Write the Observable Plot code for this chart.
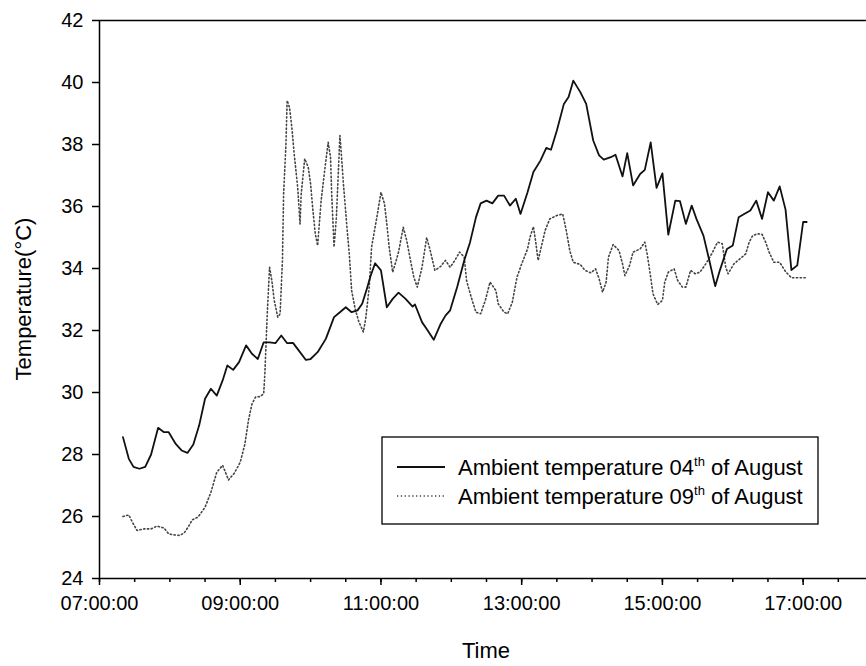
<!DOCTYPE html>
<html><head><meta charset="utf-8">
<script src="https://cdn.jsdelivr.net/npm/d3@7"></script>
<script src="https://cdn.jsdelivr.net/npm/@observablehq/plot@0.6"></script>
<style>body{margin:0;background:#fff}#chart{width:866px;height:666px}</style>
</head><body><div id="chart"></div>
<script>
// Ambient temperature, 04th of August (solid)
const solidTimes = ["07:20","07:25","07:29","07:34","07:39","07:44","07:50","07:55","07:59","08:05","08:10","08:15","08:20","08:25","08:30","08:35","08:40","08:45","08:49","08:54","08:59","09:05","09:10","09:15","09:20","09:25","09:30","09:35","09:40","09:45","09:50","09:56","10:00","10:06","10:13","10:20","10:25","10:30","10:35","10:40","10:44","10:48","10:51","10:55","11:00","11:05","11:10","11:15","11:21","11:27","11:29","11:35","11:39","11:45","11:51","11:55","11:59","12:05","12:11","12:16","12:21","12:25","12:30","12:35","12:40","12:45","12:50","12:55","12:59","13:05","13:10","13:16","13:21","13:25","13:30","13:36","13:40","13:44","13:50","13:55","14:01","14:06","14:10","14:16","14:20","14:26","14:30","14:35","14:41","14:45","14:50","14:55","15:00","15:05","15:11","15:15","15:20","15:25","15:29","15:35","15:40","15:45","15:49","15:55","16:00","16:05","16:09","16:15","16:20","16:25","16:30","16:35","16:40","16:45","16:50","16:55","17:00","17:03"];
const solidTemps = [28.56,27.86,27.6,27.54,27.6,28.0,28.86,28.72,28.72,28.34,28.13,28.05,28.32,28.94,29.8,30.12,29.9,30.39,30.87,30.73,30.98,31.52,31.25,31.08,31.62,31.62,31.59,31.84,31.59,31.6,31.35,31.05,31.08,31.3,31.73,32.43,32.59,32.75,32.59,32.65,32.86,33.35,33.74,34.17,33.94,32.75,33.02,33.22,33.02,32.77,32.84,32.27,32.05,31.7,32.22,32.48,32.65,33.4,34.26,34.85,35.65,36.1,36.19,36.1,36.35,36.35,36.03,36.25,35.76,36.46,37.11,37.48,37.89,37.83,38.45,39.31,39.53,40.06,39.69,39.31,38.13,37.65,37.51,37.59,37.67,36.97,37.72,36.68,37.05,37.18,38.07,36.6,37.07,35.09,36.19,36.17,35.44,36.03,35.6,35.06,34.26,33.43,33.94,34.63,34.74,35.65,35.74,35.87,36.19,35.6,36.46,36.19,36.65,35.9,33.95,34.1,35.5,35.5];

// Ambient temperature, 09th of August (dotted)
const dottedTimes = ["07:20","07:25","07:28","07:32","07:38","07:44","07:49","07:55","07:59","08:03","08:08","08:12","08:16","08:19","08:24","08:30","08:35","08:40","08:45","08:50","08:55","09:00","09:04","09:07","09:10","09:13","09:17","09:20","09:21","09:23","09:25","09:27","09:29","09:32","09:34","09:36","09:37","09:39","09:40","09:42","09:44","09:46","09:49","09:51","09:52","09:55","09:58","10:00","10:02","10:04","10:06","10:07","10:09","10:12","10:15","10:17","10:18","10:20","10:22","10:25","10:26","10:28","10:31","10:33","10:35","10:38","10:41","10:45","10:47","10:50","10:52","10:57","11:00","11:03","11:05","11:07","11:10","11:13","11:15","11:19","11:22","11:25","11:28","11:31","11:35","11:39","11:42","11:46","11:51","11:55","11:59","12:03","12:07","12:11","12:13","12:17","12:21","12:25","12:29","12:33","12:38","12:40","12:45","12:48","12:52","12:56","13:00","13:05","13:07","13:10","13:12","13:14","13:17","13:20","13:24","13:30","13:35","13:38","13:41","13:44","13:50","13:54","13:59","14:03","14:06","14:09","14:12","14:14","14:18","14:23","14:26","14:28","14:32","14:35","14:41","14:45","14:47","14:50","14:52","14:56","15:00","15:02","15:05","15:10","15:13","15:17","15:20","15:24","15:28","15:32","15:37","15:42","15:47","15:51","15:54","15:56","16:01","16:06","16:11","16:14","16:17","16:21","16:25","16:28","16:31","16:35","16:40","16:45","16:50","16:55","17:02"];
const dottedTemps = [26.0,26.05,25.82,25.55,25.6,25.6,25.69,25.63,25.44,25.41,25.39,25.46,25.68,25.89,25.98,26.3,26.78,27.43,27.65,27.18,27.4,27.75,28.34,29.1,29.63,29.85,29.87,29.96,30.6,32.5,34.04,33.6,32.97,32.43,32.54,34.26,36.41,38.02,39.42,39.2,38.56,37.7,36.62,35.44,36.41,37.54,37.27,36.73,35.87,35.12,34.74,35.23,36.19,37.16,38.07,37.59,36.41,34.69,35.65,38.29,37.81,36.73,35.33,34.47,33.29,32.7,32.3,31.95,32.38,33.4,34.69,35.76,36.46,36.09,35.44,34.69,33.88,34.26,34.53,35.33,34.9,34.3,33.72,33.4,34.04,35.0,34.58,33.94,34.07,34.26,34.04,34.26,34.53,34.37,33.61,33.07,32.59,32.54,32.97,33.56,33.29,32.86,32.59,32.54,32.91,33.72,34.15,34.63,35.0,35.35,34.85,34.26,34.74,35.23,35.6,35.71,35.76,35.23,34.58,34.2,34.13,33.94,33.86,33.99,33.67,33.24,33.56,34.37,34.77,34.58,34.15,33.77,34.1,34.53,34.63,34.85,34.47,33.72,33.18,32.84,32.97,33.56,33.88,33.99,33.61,33.4,33.4,33.94,33.83,33.88,34.15,34.47,34.85,34.8,34.04,33.83,34.15,34.31,34.47,34.85,35.06,35.12,35.1,34.85,34.53,34.2,34.2,33.9,33.7,33.7,33.7];

const xTickLabels = ["07:00:00","09:00:00","11:00:00","13:00:00","15:00:00","17:00:00"];
const yTickValues = [24,26,28,30,32,34,36,38,40,42];
const xDomainLabels = ["07:00:00","18:00:00"];
const yDomain = [24,42];
const legendLabels = [["Ambient temperature 04","th"," of August"],["Ambient temperature 09","th"," of August"]];
const xTitle = "Time";
const yTitle = "Temperature(°C)";

const pm = d3.utcParse("%H:%M");
const ps = d3.utcParse("%H:%M:%S");
const solid = solidTimes.map((t,i)=>({t:pm(t), v:solidTemps[i]}));
const dotted = dottedTimes.map((t,i)=>({t:pm(t), v:dottedTemps[i]}));
const xDom = xDomainLabels.map(ps);
const majorTicks = xTickLabels.map(ps);
const minorTicks = d3.utcMinute.every(30).range(xDom[0], xDom[1]);
const fmt = d3.utcFormat("%H:%M:%S");

const font = "'Liberation Sans', Arial, Helvetica, sans-serif";
const plot = Plot.plot({
  width: 866, height: 666,
  marginLeft: 99, marginRight: 0, marginTop: 20, marginBottom: 88,
  style: {fontFamily: font, fontSize: "20px", color: "#000", background: "#fff", overflow: "visible"},
  x: {type: "utc", domain: xDom, range: [99, 873]},
  y: {domain: yDomain},
  marks: [
    Plot.line(dotted, {x: "t", y: "v", stroke: "#444", strokeWidth: 1.6, strokeDasharray: "1.3 2.5"}),
    Plot.line(solid, {x: "t", y: "v", stroke: "#111", strokeWidth: 1.8}),
    Plot.ruleY([yDomain[0]], {stroke: "#000", strokeWidth: 1.5}),
    Plot.ruleY([yDomain[1]], {stroke: "#000", strokeWidth: 1.5}),
    Plot.ruleX([xDom[0]], {stroke: "#000", strokeWidth: 1.5}),
    Plot.axisX({ticks: minorTicks, tickSize: 4, tickFormat: () => "", label: null, strokeWidth: 1.5}),
    Plot.axisX({ticks: majorTicks, tickSize: 7, tickPadding: 10, tickFormat: fmt, label: null, strokeWidth: 1.5, fontSize: 20}),
    Plot.axisY({ticks: yTickValues, tickSize: 7, tickPadding: 9, label: null, strokeWidth: 1.5, fontSize: 20})
  ]
});
document.getElementById("chart").appendChild(plot);

const svg = d3.select(plot);
svg.append("text").attr("x", 486).attr("y", 658).attr("text-anchor", "middle")
  .attr("font-family", font).attr("font-size", 22).attr("fill", "#000").text(xTitle);
svg.append("text").attr("transform", "translate(31,299) rotate(-90)").attr("text-anchor", "middle")
  .attr("font-family", font).attr("font-size", 22).attr("fill", "#000").text(yTitle);

const lg = svg.append("g");
lg.append("rect").attr("x", 382).attr("y", 437).attr("width", 436).attr("height", 87)
  .attr("fill", "#fff").attr("stroke", "#000").attr("stroke-width", 1.3);
const styles = [{stroke: "#111", w: 1.8, dash: null}, {stroke: "#444", w: 1.6, dash: "1.3 2.5"}];
legendLabels.forEach((parts, i) => {
  const yy = 467 + i * 29;
  lg.append("line").attr("x1", 397).attr("x2", 445).attr("y1", yy).attr("y2", yy)
    .attr("stroke", styles[i].stroke).attr("stroke-width", styles[i].w).attr("stroke-dasharray", styles[i].dash);
  const t = lg.append("text").attr("x", 458).attr("y", yy + 8).attr("text-anchor", "start")
    .attr("font-family", font).attr("font-size", 22).attr("fill", "#000");
  t.append("tspan").text(parts[0]);
  t.append("tspan").attr("font-size", 13).attr("dy", -9).text(parts[1]);
  t.append("tspan").attr("dy", 9).text(parts[2]);
});
</script></body></html>
